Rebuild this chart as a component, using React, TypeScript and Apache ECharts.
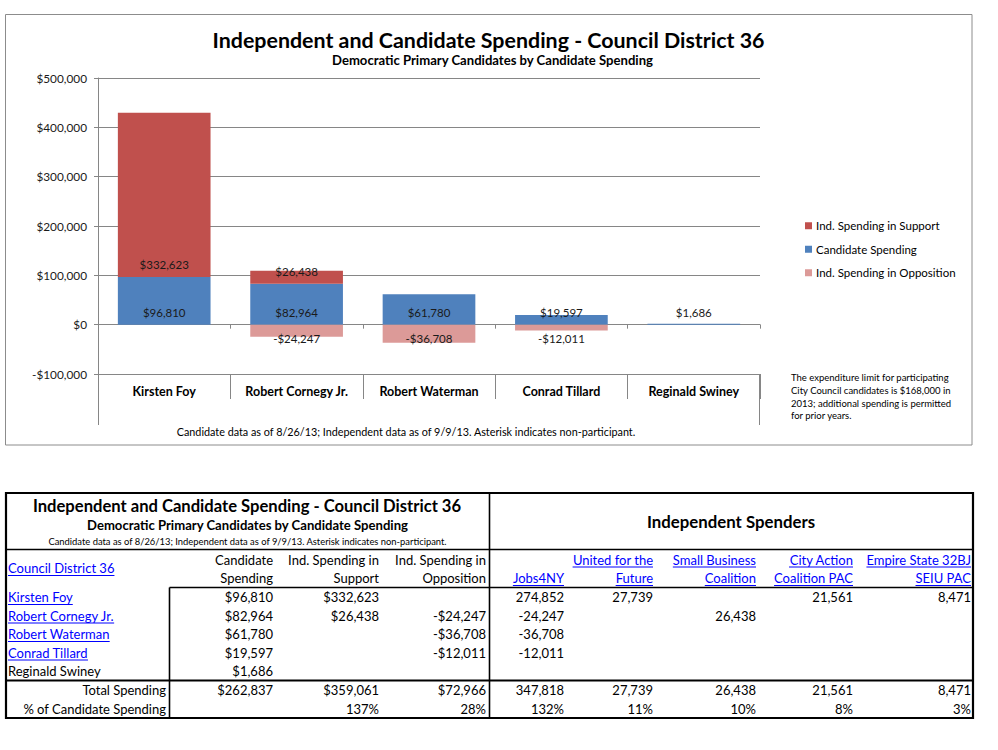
import React, { useEffect, useRef } from 'react';
import * as echarts from 'echarts';

// ---------- data ----------
const candidates = ['Kirsten Foy', 'Robert Cornegy Jr.', 'Robert Waterman', 'Conrad Tillard', 'Reginald Swiney'];
const candidateLinked = [true, true, true, true, false];
const candidateSpending = [96810, 82964, 61780, 19597, 1686];
const supportSpending: (number | null)[] = [332623, 26438, null, null, null];
const oppositionSpending: (number | null)[] = [null, -24247, -36708, -12011, null];

const yMin = -100000;
const yMax = 500000;
const yInterval = 100000;

const chartTitle = 'Independent and Candidate Spending - Council District 36';
const chartSubtitle = 'Democratic Primary Candidates by Candidate Spending';
const dataNote = 'Candidate data as of 8/26/13; Independent data as of 9/9/13. Asterisk indicates non-participant.';
const limitNote = 'The expenditure limit for participating\nCity Council candidates is $168,000 in\n2013; additional spending is permitted\nfor prior years.';

const seriesNames = ['Ind. Spending in Support', 'Candidate Spending', 'Ind. Spending in Opposition'];

const leftHeaders = [
  ['Candidate', 'Spending'],
  ['Ind. Spending in', 'Support'],
  ['Ind. Spending in', 'Opposition'],
];
const spenderHeaders = [
  ['', 'Jobs4NY'],
  ['United for the', 'Future'],
  ['Small Business', 'Coalition'],
  ['City Action', 'Coalition PAC'],
  ['Empire State 32BJ', 'SEIU PAC'],
];
const jobs4ny: (number | null)[] = [274852, -24247, -36708, -12011, null];
const unitedFuture: (number | null)[] = [27739, null, null, null, null];
const smallBusiness: (number | null)[] = [null, 26438, null, null, null];
const cityAction: (number | null)[] = [21561, null, null, null, null];
const empireState: (number | null)[] = [8471, null, null, null, null];
const spenderValues = [jobs4ny, unitedFuture, smallBusiness, cityAction, empireState];

// ---------- style constants ----------
const FONT = 'Lato, Carlito, "Noto Sans", sans-serif';
const GRID_COLOR = '#868686';
const BLUE = '#4F81BD';
const RED = '#C0504D';
const PINK = '#DC9A98';
const LINK = '#0000FF';

const fmtUSD = (v: number) => (v < 0 ? '-$' : '$') + Math.abs(v).toLocaleString('en-US');
const fmtNum = (v: number) => v.toLocaleString('en-US');

export default function App() {
  const ref = useRef<HTMLDivElement>(null);

  useEffect(() => {
    document.body.style.margin = '0';
    const chart = echarts.init(ref.current!, null, { renderer: 'svg' });

    const canvas = document.createElement('canvas');
    const ctx = canvas.getContext('2d')!;
    const measure = (s: string, size: number, weight = 'normal') => {
      ctx.font = `${weight} ${size}px Lato`;
      return ctx.measureText(s).width;
    };

    const gridLeft = 98;
    const gridRight = 760;
    const gridTop = 78;
    const gridBottom = 374;

    const g: any[] = [];
    const text = (t: string, x: number, y: number, o: any = {}) => {
      g.push({
        type: 'text',
        silent: true,
        x,
        y,
        style: {
          text: t,
          fill: o.fill || '#000',
          fontSize: o.size || 13,
          fontWeight: o.weight || 'normal',
          fontFamily: FONT,
          textAlign: o.align || 'left',
          align: o.align || 'left',
          textVerticalAlign: o.valign || 'middle',
          verticalAlign: o.valign || 'middle',
          lineHeight: o.lineHeight,
        },
      });
    };
    const line = (x1: number, y1: number, x2: number, y2: number, stroke: string, lw: number) => {
      g.push({ type: 'line', silent: true, shape: { x1, y1, x2, y2 }, style: { stroke, lineWidth: lw } });
    };
    const link = (t: string, x: number, y: number, align: 'left' | 'right', size = 13) => {
      text(t, x, y, { fill: LINK, align, size });
      const w = measure(t, size);
      const x0 = align === 'left' ? x : x - w;
      line(x0, y + 7.5, x0 + w, y + 7.5, LINK, 1);
    };

    // ---- chart decorations ----
    g.push({ type: 'rect', silent: true, shape: { x: 5.5, y: 14.5, width: 966.5, height: 430.5 }, style: { fill: 'none', stroke: '#8c8c8c', lineWidth: 1 } });
    text(chartTitle, 488.5, 40, { size: 21.4, weight: 'bold', align: 'center' });
    text(chartSubtitle, 492.5, 60, { size: 13.1, weight: 'bold', align: 'center' });
    text(dataNote, 406, 431, { size: 10.8, align: 'center' });
    text(limitNote, 791, 371.5, { size: 9.5, valign: 'top', lineHeight: 12.7 });
    line(gridLeft + 0.5, gridBottom, gridLeft + 0.5, 425, GRID_COLOR, 1);
    line(gridRight - 0.5, gridBottom, gridRight - 0.5, 425, GRID_COLOR, 1);

    // ---- table ----
    const T = 493, B = 718, L = 6, R = 973;
    g.push({ type: 'rect', silent: true, shape: { x: L, y: T, width: R - L, height: B - T }, style: { fill: 'none', stroke: '#000', lineWidth: 2.2 } });
    line(489.5, T, 489.5, B, '#000', 1.6);
    line(L, 549.5, R, 549.5, '#000', 1.6);
    line(169.5, 587.5, R, 587.5, '#000', 1.6);
    line(169.5, 587.5, 169.5, B, '#000', 1.6);
    line(L, 680.5, R, 680.5, '#000', 1.8);

    text(chartTitle, 247, 505.5, { size: 16.6, weight: 'bold', align: 'center' });
    text(chartSubtitle, 247.5, 524.5, { size: 13.1, weight: 'bold', align: 'center' });
    text(dataNote, 247.5, 541, { size: 9.4, align: 'center' });
    text('Independent Spenders', 731, 521.5, { size: 16.8, weight: 'bold', align: 'center' });

    link('Council District 36', 8, 568, 'left');

    const leftCols = [273, 379, 486];
    const rightCols = [564, 653, 756, 853, 971];
    const hdr1 = 559.5, hdr2 = 578;
    leftHeaders.forEach((h, i) => {
      text(h[0], leftCols[i], hdr1, { align: 'right' });
      text(h[1], leftCols[i], hdr2, { align: 'right' });
    });
    spenderHeaders.forEach((h, i) => {
      if (h[0]) link(h[0], rightCols[i], hdr1, 'right');
      link(h[1], rightCols[i], hdr2, 'right');
    });

    const rowY = [597, 615.5, 634, 652.5, 671];
    const leftData = [candidateSpending, supportSpending, oppositionSpending];
    candidates.forEach((c, r) => {
      if (candidateLinked[r]) link(c, 8, rowY[r], 'left');
      else text(c, 8, rowY[r]);
      leftData.forEach((col, i) => {
        const v = col[r];
        if (v !== null && v !== undefined) text(fmtUSD(v), leftCols[i], rowY[r], { align: 'right' });
      });
      spenderValues.forEach((col, i) => {
        const v = col[r];
        if (v !== null && v !== undefined) text(fmtNum(v), rightCols[i], rowY[r], { align: 'right' });
      });
    });

    const totalY = 690, pctY = 708.5;
    const sumAbs = (a: (number | null)[]) => a.reduce((s: number, v) => s + (v ? Math.abs(v) : 0), 0);
    const candTotal = sumAbs(candidateSpending);
    text('Total Spending', 166, totalY, { align: 'right' });
    text('% of Candidate Spending', 166, pctY, { align: 'right' });
    leftData.forEach((col, i) => {
      const t = sumAbs(col);
      text(fmtUSD(t), leftCols[i], totalY, { align: 'right' });
      if (i > 0) text(Math.round((t / candTotal) * 100) + '%', leftCols[i], pctY, { align: 'right' });
    });
    spenderValues.forEach((col, i) => {
      const t = sumAbs(col);
      text(fmtNum(t), rightCols[i], totalY, { align: 'right' });
      text(Math.round((t / candTotal) * 100) + '%', rightCols[i], pctY, { align: 'right' });
    });

    const barLabel = (position: string, distance: number) => ({
      show: true,
      position,
      distance,
      color: '#1a1a1a',
      fontSize: 11.5,
      fontFamily: FONT,
      formatter: (p: any) => fmtUSD(p.value),
    });

    const option: any = {
      animation: false,
      textStyle: { fontFamily: FONT },
      grid: { left: gridLeft, width: gridRight - gridLeft, top: gridTop, height: gridBottom - gridTop, containLabel: false },
      legend: {
        orient: 'vertical',
        left: 805,
        top: 218.5,
        padding: 0,
        icon: 'rect',
        itemWidth: 7,
        itemHeight: 7,
        itemGap: 9,
        data: seriesNames,
        textStyle: { fontSize: 11.5, lineHeight: 14.5, color: '#000', fontFamily: FONT, padding: [0, 0, 0, -1] },
      },
      xAxis: [
        {
          type: 'category',
          data: candidates,
          position: 'bottom',
          axisLine: { show: true, onZero: true, lineStyle: { color: GRID_COLOR } },
          axisTick: { show: true, length: 4, interval: 0, alignWithLabel: false, lineStyle: { color: GRID_COLOR } },
          axisLabel: { show: false },
          splitLine: { show: false },
        },
        {
          type: 'category',
          data: candidates,
          position: 'bottom',
          axisLine: { show: true, onZero: false, lineStyle: { color: GRID_COLOR } },
          axisTick: { show: true, length: 25, interval: 0, alignWithLabel: false, lineStyle: { color: GRID_COLOR } },
          axisLabel: { show: true, interval: 0, margin: 11, fontWeight: 'bold', fontSize: 12.5, color: '#000', fontFamily: FONT },
          splitLine: { show: false },
        },
      ],
      yAxis: {
        type: 'value',
        min: yMin,
        max: yMax,
        interval: yInterval,
        axisLine: { show: true, lineStyle: { color: GRID_COLOR } },
        axisTick: { show: true, length: 4, lineStyle: { color: GRID_COLOR } },
        splitLine: { show: true, lineStyle: { color: GRID_COLOR, width: 1 } },
        axisLabel: { margin: 11, fontSize: 11.8, color: '#1a1a1a', fontFamily: FONT, formatter: (v: number) => fmtUSD(v) },
      },
      series: [
        {
          name: 'Candidate Spending',
          type: 'bar',
          stack: 'total',
          barCategoryGap: '30%',
          data: candidateSpending,
          itemStyle: { color: BLUE },
          label: barLabel('insideBottom', 6.5),
        },
        {
          name: 'Ind. Spending in Support',
          type: 'bar',
          stack: 'total',
          barCategoryGap: '30%',
          data: supportSpending.map((v) => (v === null ? '-' : v)),
          itemStyle: { color: RED },
          label: barLabel('insideBottom', 6.5),
        },
        {
          name: 'Ind. Spending in Opposition',
          type: 'bar',
          stack: 'total',
          barCategoryGap: '30%',
          data: oppositionSpending.map((v) => (v === null ? '-' : v)),
          itemStyle: { color: PINK },
          label: barLabel('insideTop', 7.5),
        },
      ],
      graphic: { elements: g },
    };

    chart.setOption(option);
    return () => chart.dispose();
  }, []);

  return <div ref={ref} style={{ width: 998, height: 750 }} />;
}
